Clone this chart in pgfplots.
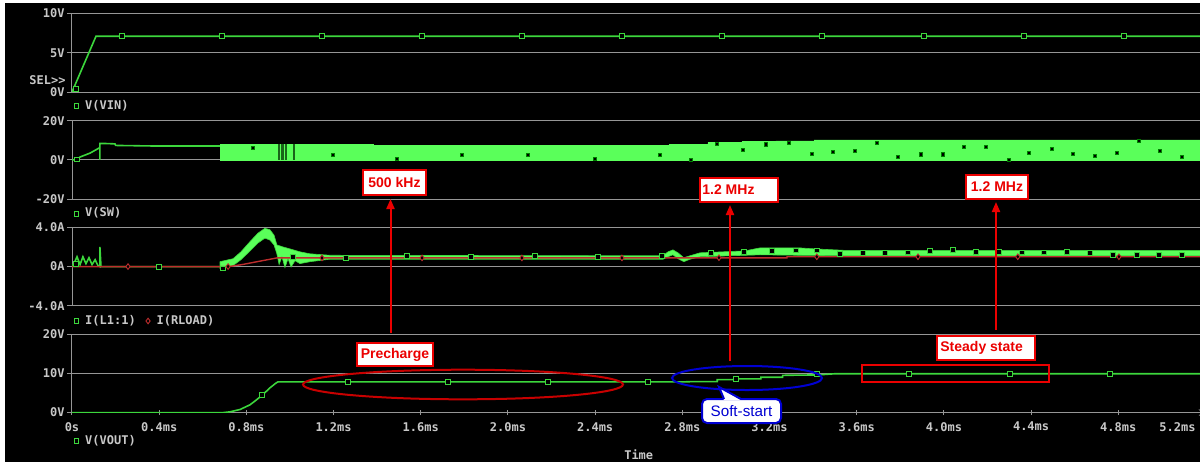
\documentclass[border=0pt]{standalone}
\usepackage{pgfplots}
\pgfplotsset{compat=1.18}
\usetikzlibrary{arrows.meta}
\usepackage{fontspec}
\setmainfont{Liberation Sans}
\newfontfamily\monof{DejaVu Sans Mono}
\definecolor{gridc}{RGB}{150,150,150}
\definecolor{txt}{RGB}{200,200,200}
\definecolor{gline}{RGB}{60,215,60}
\definecolor{gband}{RGB}{90,255,90}
\definecolor{gdark}{RGB}{25,100,25}
\definecolor{rline}{RGB}{190,45,45}
\definecolor{annred}{RGB}{235,0,0}
\definecolor{annblue}{RGB}{0,0,210}
\newcommand\tf{\monof\bfseries\fontsize{6}{7}\selectfont}
\newcommand\af{\bfseries\fontsize{7}{8}\selectfont}
\pgfplotsset{
  panel/.style={
    scale only axis, width=566.75pt, height=39.25pt,
    xmin=0, xmax=5.2,
    axis y line=left,
    axis line style={-, draw=gridc, line width=0.5pt},
    ymajorgrids, grid style={draw=gridc, line width=0.5pt},
    tick style={draw=gridc, line width=0.5pt},
    major tick length=2.5pt, tick align=outside,
    yticklabel style={text=txt, font=\tf, inner sep=1pt},
    xticklabel style={text=txt, font=\tf},
    anchor=south west,
    legend style={draw=none, fill=none, text=txt, font=\tf, at={(0,0)}, anchor=west,
      inner sep=0pt, outer sep=0pt, xshift=1pt, nodes={inner sep=0.6pt},
      /tikz/every odd column/.append style={column sep=2.6pt},
      /tikz/every even column/.append style={column sep=4.5pt}},
    legend cell align=left,
    legend image code/.code={\draw[##1] plot coordinates {(0pt,0pt)};},
  },
  gmark/.style={only marks, mark=square*, mark size=1.2pt, mark options={fill=black, draw=gline, line width=0.45pt}},
  bmark/.style={only marks, mark=square*, mark size=0.8pt, mark options={fill=black, draw=black!50!green, line width=0.35pt}},
  rmark/.style={only marks, mark=diamond*, mark size=1.4pt, mark options={fill=black, draw=rline, line width=0.45pt}},
}
\begin{document}
\begin{tikzpicture}
\fill[white] (0,0) rectangle (600pt,-231pt);
\fill[black] (2.5pt,-1.5pt) rectangle (600pt,-231pt);

% Panel 1: V(VIN)
\begin{axis}[panel, axis x line=none, at={(36pt,-46pt)}, ymin=0, ymax=10,
  ytick={0,5,10}, yticklabels={0V,5V,10V}, legend style={yshift=-7pt}]
\addplot[gline, line width=0.8pt, forget plot] coordinates {(0,0)(0.11,7.1)(5.2,7.1)};
\addplot[gmark] coordinates {(0.018,0.4)(0.229,7.1)(0.688,7.1)(1.147,7.1)(1.606,7.1)(2.064,7.1)(2.523,7.1)(2.982,7.1)(3.440,7.1)(3.908,7.1)(4.367,7.1)(4.826,7.1)};
\addlegendentry{V(VIN)}
\end{axis}

% Panel 2: V(SW)
\begin{axis}[panel, axis x line=none, at={(36pt,-99.6pt)}, ymin=-20, ymax=20,
  ytick={-20,0,20}, yticklabels={-20V,0V,20V}, legend style={yshift=-7.2pt}]
\addplot[gline, line width=0.8pt, forget plot] coordinates {(0,0)(0.023,0.3)(0.037,1.5)(0.083,3.5)(0.115,5.5)(0.128,6.3)(0.128,0)(0.128,8.4)(0.147,8.4)(0.197,8.2)(0.2,7.4)(0.381,7.1)(0.679,7.1)};
\addplot[fill=gband, draw=gband, line width=0.3pt, forget plot] coordinates {(0.679,0)(0.679,7.8)(0.917,7.8)(0.917,8.1)(1.381,8.1)(1.381,7.6)(2.739,7.6)(2.739,8.1)(2.917,8.1)(2.917,8.8)(3.073,8.8)(3.073,9.3)(3.229,9.3)(3.229,9.7)(3.404,9.7)(3.404,10.2)(5.2,10.2)(5.2,0)(0.679,0)};
\addplot[ycomb, gdark, line width=0.6pt, forget plot] coordinates {(0.950,7.9)(0.963,7.9)(0.972,7.9)(0.982,7.9)(1.018,7.9)};
\addplot[bmark, forget plot] coordinates {(0.830,6.1)(1.197,2.7)(1.491,0.5)(1.789,2.7)(2.092,2.7)(2.399,0.5)(2.697,2.4)(2.839,0)(2.959,8.2)(3.078,5.1)(3.183,8.0)(3.289,8.9)(3.394,3.2)(3.491,4.1)(3.592,4.8)(3.693,8.9)(3.789,1.5)(3.894,2.9)(3.995,2.9)(4.092,6.8)(4.193,6.8)(4.298,0)(4.390,3.6)(4.495,5.6)(4.592,3.2)(4.693,1.9)(4.794,3.6)(4.894,9.6)(4.991,4.8)(5.092,1.4)};
\addplot[gmark] coordinates {(0.023,0.3)};
\addlegendentry{V(SW)}
\end{axis}

% Panel 3: currents
\begin{axis}[panel, axis x line=none, at={(36pt,-152.9pt)}, ymin=-4, ymax=4,
  ytick={-4,0,4}, yticklabels={-4.0A,0A,4.0A}, legend columns=2, legend style={yshift=-7.6pt}]
\addplot[gline, line width=0.8pt, forget plot] coordinates {(0,0.1)(0.009,0.3)(0.023,1.0)(0.037,0.2)(0.050,1.0)(0.064,0.3)(0.078,0.9)(0.092,0.2)(0.106,0.7)(0.119,0.1)(0.128,0)(0.128,2.0)(0.133,0)(0.679,0)};
\addplot[fill=gband, draw=gline, line width=0.3pt, forget plot] coordinates {
 (0.679,0.5)(0.739,0.8)(0.775,1.5)(0.817,2.55)(0.853,3.4)(0.885,3.9)(0.908,3.75)(0.927,3.2)(0.940,2.2)(0.968,2.0)(1.0,1.8)(1.046,1.5)(1.092,1.3)(1.183,1.15)(2.422,1.1)(2.711,1.1)(2.734,1.5)(2.757,1.7)(2.780,1.4)(2.807,0.9)(2.835,1.1)(2.881,1.4)(3.087,1.6)(3.156,1.9)(3.339,1.9)(3.408,1.8)(3.546,1.65)(5.2,1.65)
 (5.2,1.1)(3.546,1.1)(3.339,1.15)(3.156,1.2)(2.881,1.0)(2.835,0.75)(2.807,0.5)(2.780,0.8)(2.757,1.2)(2.734,1.0)(2.711,0.75)(2.422,0.75)(1.183,0.75)(1.092,0.5)(1.046,0.3)(1.023,0.6)(1.005,-0.05)(0.991,0.8)(0.977,-0.1)(0.963,1.0)(0.950,0.2)(0.940,1.3)(0.927,2.2)(0.908,2.7)(0.885,2.9)(0.853,2.4)(0.817,1.6)(0.775,0.7)(0.739,0.1)(0.679,-0.2)(0.679,0.5)};
\addplot[rline, line width=0.7pt, forget plot] coordinates {(0,0)(0.72,0)(0.78,0.2)(0.85,0.5)(0.94,0.88)(3.28,0.88)(3.28,1.0)(5.2,1.0)};
\addplot[gmark] coordinates {(0.018,0.3)(0.399,0)(0.693,-0.2)(1.014,1.0)(1.257,0.9)(1.537,1.07)(1.830,1.0)(2.124,1.1)(2.413,1.0)(2.706,1.09)(2.931,1.37)(3.083,1.48)(3.211,1.6)(3.321,1.64)(3.417,1.64)(3.523,1.3)(3.628,1.37)(3.729,1.37)(3.835,1.44)(3.936,1.6)(4.041,1.7)(4.147,1.5)(4.252,1.48)(4.358,1.44)(4.459,1.44)(4.564,1.48)(4.670,1.37)(4.775,1.2)(4.885,1.2)(4.986,1.2)(5.092,1.2)};
\addlegendentry{I(L1:1)}
\addplot[rmark] coordinates {(0.257,0)(0.716,0)(1.147,0.88)(1.606,0.88)(2.064,0.88)(2.523,0.88)(2.968,0.9)(3.417,1.0)(3.881,1.0)(4.339,1.0)(4.803,1.0)};
\addlegendentry{I(RLOAD)}
\end{axis}

% Panel 4: V(VOUT)
\begin{axis}[panel, at={(36pt,-206.3pt)}, ymin=0, ymax=20,
  ytick={0,10,20}, yticklabels={0V,10V,20V},
  axis x line=bottom, xtick={0,0.4,0.8,1.2,1.6,2.0,2.4,2.8,3.2,3.6,4.0,4.4,4.8,5.2},
  xticklabels={0s,0.4ms,0.8ms,1.2ms,1.6ms,2.0ms,2.4ms,2.8ms,3.2ms,3.6ms,4.0ms,4.4ms,4.8ms,\makebox[0pt][r]{5.2ms\hspace*{5pt}}},
  xtick pos=bottom,
  xlabel={Time}, xlabel style={text=txt, font=\tf, at={(axis description cs:0.5,0)}, anchor=center, yshift=-21.25pt},
  legend style={yshift=-14.2pt}]
\addplot[gline, line width=0.8pt, forget plot] coordinates {(0,0)(0.693,0)(0.725,0.2)(0.771,0.8)(0.817,2.0)(0.845,3.2)(0.872,4.4)(0.908,6.3)(0.935,7.5)(0.945,7.84)(2.81,7.84)(2.85,7.9)(2.96,7.9)(2.96,8.4)(3.05,8.4)(3.05,8.6)(3.16,8.6)(3.16,9.0)(3.26,9.0)(3.26,9.5)(3.42,9.6)(3.5,9.9)(5.2,9.9)};
\addplot[gmark] coordinates {(0.872,4.4)(1.266,7.84)(1.725,7.84)(2.183,7.84)(2.642,7.84)(3.046,8.5)(3.417,9.8)(3.839,9.9)(4.303,9.9)(4.761,9.9)};
\addlegendentry{V(VOUT)}
\end{axis}

\begin{scope}[x=0.5pt,y=-0.5pt]
\node[anchor=east, text=txt, font=\tf, inner sep=0pt] at (66,80) {SEL>\kern0pt>};
% arrows
\draw[annred, line width=1pt, -{Triangle[length=5pt,width=4pt]}] (390.5,332.5) -- (390.5,199);
\draw[annred, line width=1pt, -{Triangle[length=5pt,width=4pt]}] (730,361) -- (730,205);
\draw[annred, line width=1pt, -{Triangle[length=5pt,width=4pt]}] (996,330) -- (996,202);
% boxes
\filldraw[fill=white, draw=annred, line width=1pt] (363,170) rectangle (426,195);
\node[text=annred, font=\af] at (394.5,182.5) {500 kHz};
\filldraw[fill=white, draw=annred, line width=1pt] (700,178) rectangle (778,202);
\node[text=annred, font=\af, anchor=west, inner sep=0pt] at (702,190) {1.2 MHz};
\filldraw[fill=white, draw=annred, line width=1pt] (966,174.5) rectangle (1028,198.5);
\node[text=annred, font=\af] at (997,186.5) {1.2 MHz};
\filldraw[fill=white, draw=annred, line width=1pt] (357,343) rectangle (433,366);
\node[text=annred, font=\af] at (395,354.5) {Precharge};
\filldraw[fill=white, draw=annred, line width=1pt] (937,336) rectangle (1035,360);
\node[text=annred, font=\af, anchor=west, inner sep=0pt] at (940,348) {Steady state};
\draw[annred, line width=1pt] (862,365) rectangle (1049,382);
% ellipses
\draw[annred!85!black, line width=1pt] (463,384.5) ellipse [x radius=80pt, y radius=7.4pt];
\draw[annblue, line width=1pt] (747,378) ellipse [x radius=37.5pt, y radius=6pt];
% callout
\filldraw[fill=white, draw=annblue, line width=1pt, rounded corners=2.5pt] (702,399) rectangle (781,423);
\fill[white] (724,400.2) -- (719,387) -- (741,400.2) -- cycle;
\draw[annblue, line width=1pt] (724,399) -- (719,387) -- (741,399);
\node[text=annblue, font=\fontsize{7.6}{8}\selectfont] at (741.5,411.5) {Soft-start};
\end{scope}
\pgfresetboundingbox
\useasboundingbox (0,0) rectangle (600pt,-231pt);
\end{tikzpicture}
\end{document}
